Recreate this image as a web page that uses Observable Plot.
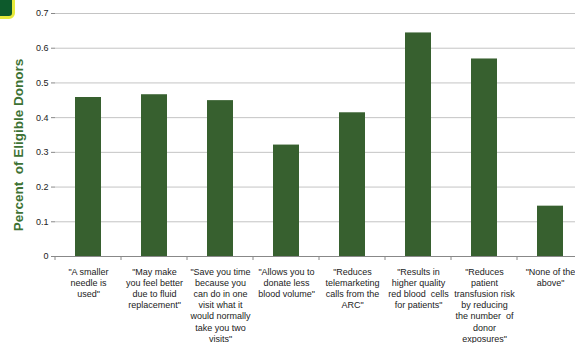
<!DOCTYPE html>
<html>
<head>
<meta charset="utf-8">
<script src="https://cdn.jsdelivr.net/npm/d3@7"></script>
<script src="https://cdn.jsdelivr.net/npm/@observablehq/plot@0.6"></script>
<style>
  html, body { margin: 0; padding: 0; background: #fff; }
  #wrap { position: relative; width: 575px; height: 343px; overflow: hidden; }
  #badge { position: absolute; left: -12px; top: -12px; width: 21px; height: 25px;
           background: #0d5a2c; border: 3px solid #e6ea3c; border-radius: 6px; }
  #chart { position: absolute; left: 0; top: 0; }
</style>
</head>
<body>
<div id="wrap"><div id="chart"></div><div id="badge"></div></div>
<script>
const categories = [
  "\"A smaller\nneedle is\nused\"",
  "\"May make\nyou feel better\ndue to fluid\nreplacement\"",
  "\"Save you time\nbecause you\ncan do in one\nvisit what it\nwould normally\ntake you two\nvisits\"",
  "\"Allows you to\ndonate less\nblood volume\"",
  "\"Reduces\ntelemarketing\ncalls from the\nARC\"",
  "\"Results in\nhigher quality\nred blood  cells\nfor patients\"",
  "\"Reduces\npatient\ntransfusion risk\nby reducing\nthe number  of\ndonor\nexposures\"",
  "\"None of the\nabove\""
];
const values = [0.458, 0.466, 0.449, 0.321, 0.414, 0.644, 0.569, 0.145];
const yTicks = [0, 0.1, 0.2, 0.3, 0.4, 0.5, 0.6, 0.7];
const yTickLabels = ["0", "0.1", "0.2", "0.3", "0.4", "0.5", "0.6", "0.7"];
const yLabel = "Percent  of Eligible Donors";

const data = categories.map((c, i) => ({cat: c, value: values[i]}));

// boundary ticks between categories, drawn through the band scale
const boundaryTicks = (index, scales, vals, dims) => {
  const x = scales.x;
  const step = x.step();
  const half = (step - x.bandwidth()) / 2;
  const y0 = scales.y(0);
  const g = d3.create("svg:g").attr("stroke", "#888").attr("stroke-width", 1);
  const xs = categories.map(c => x(c) - half).concat([x(categories[categories.length - 1]) - half + step]);
  xs.forEach(px => g.append("line").attr("x1", px).attr("x2", px).attr("y1", y0).attr("y2", y0 + 4));
  return g.node();
};

const chart = Plot.plot({
  width: 575,
  height: 343,
  marginLeft: 55,
  marginRight: -9,
  marginTop: 13,
  marginBottom: 87,
  style: {fontFamily: "'Liberation Sans', Arial, sans-serif", fontSize: "9px", color: "#222", background: "transparent"},
  x: {domain: categories, paddingInner: 0.6, paddingOuter: 0.3, align: 0.5},
  y: {domain: [0, 0.7]},
  marks: [
    Plot.gridY(yTicks, {stroke: "#c4c4c4", strokeOpacity: 1, strokeWidth: 1}),
    Plot.barY(data, {x: "cat", y: "value", fill: "#37602f"}),
    Plot.ruleY([0], {stroke: "#888"}),
    Plot.ruleX([0], {frameAnchor: "left", stroke: "#888"}),
    Plot.axisY({ticks: yTicks, tickFormat: (d, i) => yTickLabels[i], tickSize: 4, tickPadding: 3, stroke: "#888", fill: "#222", label: null, fontSize: 9}),
    Plot.axisX({tickSize: 0, tickPadding: 10, label: null, fill: "#222", lineHeight: 1.25, fontSize: 9}),
    boundaryTicks,
    Plot.text([yLabel], {frameAnchor: "left", textAnchor: "middle", rotate: -90, dx: -37, dy: 10, text: d => d, fill: "#3d7234", fontWeight: "bold", fontSize: 13.5})
  ]
});
document.getElementById("chart").appendChild(chart);
</script>
</body>
</html>
